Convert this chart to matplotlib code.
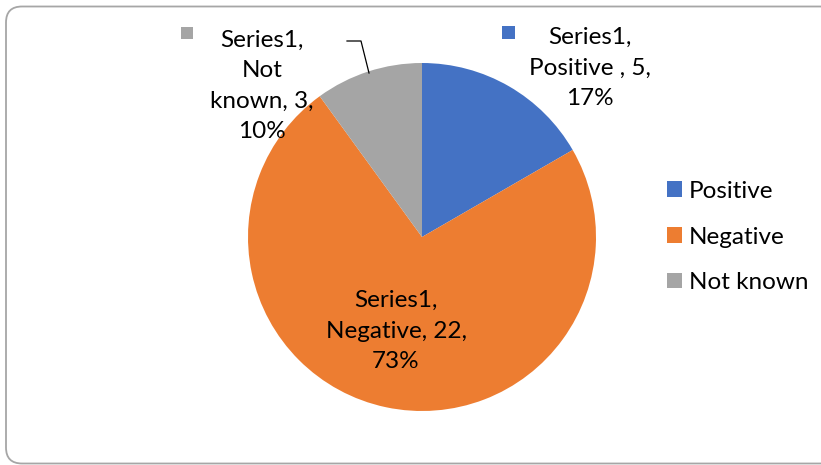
import matplotlib.pyplot as plt
from matplotlib.patches import Rectangle, FancyBboxPatch

series = "Series1"
categories = ["Positive", "Negative", "Not known"]
counts = [5, 22, 3]
colors = ["#4472C4", "#ED7D31", "#A5A5A5"]

plt.rcParams["font.family"] = ["Lato", "DejaVu Sans"]
FS = 17.5
LS = 1.55

W, H = 821, 465
fig = plt.figure(figsize=(W / 100, H / 100), dpi=100)
ax = fig.add_axes([0, 0, 1, 1])

# rounded chart frame
frame = FancyBboxPatch((6, 1.5), 830, 457, boxstyle="round,pad=0,rounding_size=16",
                       facecolor="white", edgecolor="#A6A6A6", linewidth=1.3, zorder=0)
ax.add_patch(frame)

wedges, _ = ax.pie(counts, colors=colors, startangle=90, counterclock=False,
                   center=(422, H - 237), radius=174,
                   wedgeprops=dict(linewidth=0, zorder=2))
ax.set_xlim(0, W)
ax.set_ylim(0, H)
ax.set_aspect("equal")
ax.axis("off")

total = sum(counts)
pcts = [round(c / total * 100) for c in counts]

# data labels
pos_txt = f"{series},\n{categories[0]} , {counts[0]},\n{pcts[0]}%"
neg_txt = f"{series},\n{categories[1]}, {counts[1]},\n{pcts[1]}%"
nk_first, nk_second = categories[2].split()
nk_txt = f"{series},\n{nk_first}\n{nk_second}, {counts[2]},\n{pcts[2]}%"

ax.text(590, H - 68, pos_txt, ha="center", va="center", fontsize=FS, linespacing=LS, zorder=5)
ax.text(396, H - 331, neg_txt, ha="center", va="center", fontsize=FS, linespacing=LS, zorder=5)
ax.text(262, H - 86, nk_txt, ha="center", va="center", fontsize=FS, linespacing=LS, zorder=5)

# small colour keys inside the labels
ax.add_patch(Rectangle((502, H - 39), 13, 13, facecolor=colors[0], zorder=5))
ax.add_patch(Rectangle((181, H - 39), 12, 12, facecolor=colors[2], zorder=5))

# leader line for the small slice
ax.plot([347, 361, 369], [H - 41, H - 41, H - 73], color="black", linewidth=0.9, zorder=4)

leg = ax.legend(wedges, categories, loc="center left", bbox_to_anchor=(667 / W, (H - 237) / H),
                frameon=False, fontsize=FS, borderpad=0, borderaxespad=0,
                handlelength=0.6, handleheight=0.6, handletextpad=0.3, labelspacing=1.02)

fig.savefig("out.png", dpi=100)
